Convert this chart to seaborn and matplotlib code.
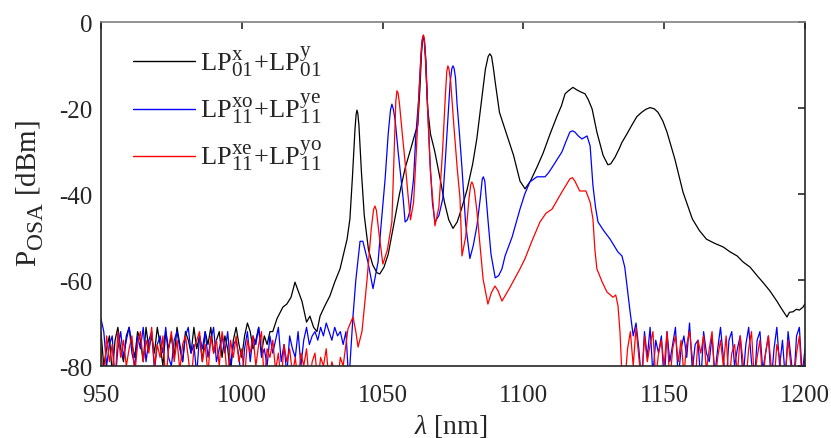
import numpy as np
import pandas as pd
import matplotlib
matplotlib.use("Agg")
import matplotlib.pyplot as plt
import matplotlib._mathtext as _mt
import seaborn as sns

# ---------------- data ----------------
# noise floors sampled every 1 nm
black_noise_start = 950
black_noise = [-72, -80, -76, -73, -82, -74, -71, -76, -79, -73, -71, -75, -78, -72, -74, -79,
               -71, -76, -73, -77, -71, -75, -80, -72, -76, -73, -78, -71, -75, -79, -72, -74,
               -77, -71, -76, -73, -79, -72, -75, -71, -77, -74, -72, -78, -73, -76, -82, -74,
               -71, -75, -78, -73, -70, -72, -76, -74, -71, -77, -73, -75, -72]

black_wl = [1011, 1012.5, 1014.6, 1016, 1017.5, 1018.9, 1020, 1021.4, 1023, 1024.2, 1025.5, 1026.7,
            1027.8, 1029.5, 1031.3, 1033, 1034.9, 1036.5, 1037.4, 1038.4, 1039.3, 1040.2, 1040.6,
            1040.9, 1041.2, 1041.6, 1042.5, 1043.5, 1045, 1046.5, 1048, 1049, 1050.5, 1052, 1054,
            1056, 1058, 1060, 1061.5, 1062.5, 1063.3, 1063.8, 1064.2, 1064.5, 1064.8, 1065.2, 1066,
            1067, 1068.5, 1070, 1072, 1073.5, 1075, 1076.5, 1078, 1080, 1082, 1083.5, 1085, 1086.5,
            1087.5, 1088.1, 1088.7, 1089.3, 1090, 1091.5, 1093.5, 1094.5, 1096.5, 1098.8, 1100.6,
            1102.5, 1105, 1107, 1109.5, 1112, 1113.5, 1114.8, 1116, 1117.6, 1119, 1120.5, 1121.9,
            1123, 1124.4, 1126.1, 1128.3, 1130, 1131, 1132.5, 1134, 1135, 1136.8, 1138.5, 1140.3,
            1142, 1143.5, 1145, 1146.5, 1147.8, 1149.5, 1151, 1153.8, 1156.7, 1160, 1162.5, 1165,
            1168, 1170.9, 1173.5, 1175.9, 1178, 1180.5, 1183, 1185, 1187.5, 1190, 1191.5, 1192.5,
            1193.6, 1194.5, 1195.7, 1197, 1198, 1199.3, 1200]
black_db = [-72, -69, -66.3, -65.6, -64, -60.5, -62.5, -65, -69.8, -68.4, -71, -72,
            -68.4, -66, -63.7, -60.5, -57.4, -53, -50.5, -45.8, -36, -25, -21.5,
            -20.5, -21.2, -24, -35, -45, -53, -56.5, -58.3, -58.6, -57, -54, -47,
            -40, -34, -29.5, -26, -24, -15, -7.5, -4, -3.2, -4.5, -8, -20,
            -26, -30, -35, -42, -46, -48, -46.5, -43.5, -39, -33, -27, -19, -11,
            -8, -7.4, -8, -10.5, -14, -21, -25, -27, -31, -37, -38.8,
            -37, -33.5, -30.5, -26, -21.8, -19.5, -16.7, -16, -15.2, -15.8, -16.3, -16.7,
            -18, -20.2, -25.6, -31, -33.2, -33, -31.5, -29.5, -28, -26, -24, -22,
            -21, -20.3, -19.9, -20.2, -21, -23, -25.6, -31.9, -39.6, -45.8, -48.5, -50.5,
            -51.5, -52.3, -53.5, -54.4, -55.8, -57, -59, -60.5, -62.5, -64.9, -66.5, -67.5,
            -68.6, -67.5, -67.4, -66.8, -67, -66.3, -65.5]

blue_noise_start = 950
blue_noise = [-69, -72, -80, -75, -73, -84, -76, -72, -78, -74, -71, -77, -80, -73, -76, -71,
              -79, -74, -72, -81, -75, -73, -77, -71, -78, -80, -74, -72, -76, -79, -73, -71,
              -77, -75, -82, -73, -76, -72, -78, -74, -71, -79, -76, -73, -77, -72, -80, -75,
              -74, -78, -84, -76, -72, -79, -73, -75, -71, -78, -76, -80, -73, -77, -74, -71,
              -79, -75, -82, -73, -76, -78, -72, -80, -74, -71, -75, -73, -72, -74, -71, -73,
              -70, -72, -74, -71, -73, -72, -75, -72, -84]

blue_wl = [1039.5, 1040.5, 1042, 1043, 1044.8, 1046.6, 1048.4, 1049.5, 1050.9, 1052, 1052.8,
           1053.3, 1053.8, 1054.5, 1055.5, 1057.3, 1058, 1058.8, 1059.7, 1061, 1061.8, 1062.8,
           1063.6, 1064.1, 1064.5, 1064.9, 1065.4, 1066, 1066.8, 1067.7, 1068.6, 1070, 1071.4,
           1072.3, 1073.2, 1074, 1074.6, 1075, 1075.4, 1075.9, 1076.4, 1077.3, 1078.2, 1079.5,
           1081, 1082.2, 1083.5, 1084.7, 1085.4, 1085.8, 1086.3, 1087.4, 1088.5, 1090, 1091.2,
           1092.4, 1093.5, 1096, 1098.8, 1100.5, 1102.3, 1104.8, 1107.7, 1109, 1110.5, 1113.7,
           1115, 1116.5, 1117.4, 1118.3, 1119.5, 1120.8, 1122.6, 1123.7, 1124.7, 1125.6, 1126.5,
           1128.5, 1130.8, 1133.6, 1135, 1136, 1136.8, 1137.9, 1139]
blue_db = [-68.4, -60, -51, -51, -55.8, -62, -55.8, -47, -36.5, -26, -20.5,
           -19.1, -20.2, -23, -30, -41, -46.5, -46, -44, -36.5, -26.5, -18,
           -8, -4.2, -3.5, -4.5, -9, -20, -31.9, -42, -46.5, -45, -41,
           -32, -22.6, -14, -10.8, -10.2, -10.8, -13, -18.6, -26, -34, -47,
           -55, -52, -47.4, -41, -36.5, -36, -37, -45.8, -54, -59.5, -59,
           -57.4, -54.4, -50, -43.5, -40, -37.2, -36, -36, -35, -33.5, -30.2,
           -28, -25.6, -25.3, -25.6, -26.5, -27.2, -26.5, -28.8, -38, -43, -46.5,
           -48.5, -50.5, -53.5, -54.4, -57, -61.4, -67.4, -73]

blue_tail_start = 1140
blue_tail = [-70, -76, -84, -72, -78, -71, -82, -74, -77, -73, -84, -72, -79, -75, -71, -83,
             -76, -73, -78, -70, -81, -75, -74, -84, -72, -77, -79, -73, -82, -76, -71, -78,
             -84, -74, -72, -80, -76, -73, -83, -75, -71, -79, -84, -74, -72, -81, -77, -73,
             -84, -76, -71, -80, -74, -83, -72, -78, -84, -73, -71, -82, -76]

red_noise_start = 950
red_noise = [-76, -84, -73, -79, -75, -84, -72, -78, -74, -80, -76, -73, -82, -75, -72, -79,
             -74, -77, -71, -80, -75, -78, -73, -84, -76, -72, -79, -74, -81, -75, -73, -78,
             -84, -76, -74, -72, -79, -75, -82, -73, -77, -74, -80, -72, -76, -84, -74, -78,
             -73, -79, -76, -83, -74, -77, -73, -80, -75, -72, -84, -76, -78, -74, -81, -77,
             -84, -75, -79, -76, -82, -78, -84, -77, -80, -76, -84, -79, -77, -84, -78, -80,
             -76, -84, -79, -82, -84, -78, -80]

red_wl = [1037.7, 1039.5, 1040.5, 1041.3, 1042.7, 1044.5, 1046, 1046.8, 1047.3, 1047.8, 1048.7,
          1050.1, 1051.7, 1053.3, 1054.2, 1054.7, 1055.1, 1055.5, 1056, 1057, 1058, 1059, 1059.9,
          1061, 1062, 1063, 1063.8, 1064.2, 1064.5, 1064.8, 1065.2, 1066, 1067, 1068.6, 1070,
          1071.3, 1072.3, 1072.8, 1073.2, 1073.6, 1074.2, 1075.3, 1076.5, 1077.5, 1078.2,
          1079.5, 1080.7, 1081.3, 1081.7, 1082.1, 1082.6, 1083.5, 1084.6, 1085.7, 1087.4,
          1088.6, 1089.9, 1091, 1092.4, 1095, 1098.8, 1100.6, 1103, 1105.9, 1108, 1110.2, 1113.7,
          1116.5, 1117.4, 1118.3, 1120, 1122.2, 1123.7, 1124.7, 1125.4, 1126.1, 1128, 1129.7,
          1131.8, 1132.8, 1133.6, 1134.3, 1135]
red_db = [-71.4, -68.6, -72, -75.6, -71.9, -59.8, -48, -43.6, -42.8, -43.8, -49,
          -56.3, -53, -46.5, -28, -18.5, -16, -16.5, -19, -26, -32.6, -40, -46,
          -42, -30, -16, -6, -3.6, -3, -3.8, -8, -20, -35, -47.4, -43,
          -30, -17, -11.5, -10.2, -11, -14, -24, -34, -41, -54.4,
          -50, -41, -37.8, -37.2, -37.8, -39, -44, -52, -59.8, -65.6,
          -63, -61.4, -62.5, -64.9, -62, -57.4, -55, -51, -46.5, -44.5, -43.5, -39.5,
          -36.5, -36.2, -37, -39.3, -39.3, -41.9, -45.8, -53, -57.4, -60.5, -62.8,
          -64, -63.5, -66, -72, -82]

red_tail_start = 1136
red_tail = [-84, -76, -72, -80, -71, -78, -84, -73, -79, -75, -72, -83, -77, -74, -80, -72,
            -84, -76, -73, -79, -74, -82, -75, -72, -78, -84, -74, -77, -73, -81, -76, -72,
            -84, -78, -74, -80, -73, -84, -77, -75, -82, -73, -79, -84, -76, -72, -83, -78,
            -74, -84, -77, -73, -80, -84, -75, -78, -84, -82, -74, -80, -84, -77, -73, -84, -78]

labels = [r"$\mathrm{LP}_{01}^{\mathrm{x}}\!+\!\mathrm{LP}_{01}^{\mathrm{y}}$",
          r"$\mathrm{LP}_{11}^{\mathrm{xo}}\!+\!\mathrm{LP}_{11}^{\mathrm{ye}}$",
          r"$\mathrm{LP}_{11}^{\mathrm{xe}}\!+\!\mathrm{LP}_{11}^{\mathrm{yo}}$"]
colors = ["#000000", "#0000ff", "#ff0000"]

x_ticks = [950, 1000, 1050, 1100, 1150, 1200]
y_ticks = [-80, -60, -40, -20, 0]

# ---------------- assemble ----------------
def grid(start, vals):
    return list(start + np.arange(len(vals), dtype=float))

series = [
    (grid(black_noise_start, black_noise) + black_wl, black_noise + black_db),
    (grid(blue_noise_start, blue_noise) + blue_wl + grid(blue_tail_start, blue_tail),
     blue_noise + blue_db + blue_tail),
    (grid(red_noise_start, red_noise) + red_wl + grid(red_tail_start, red_tail),
     red_noise + red_db + red_tail),
]
frames = []
for (wl, db), lab in zip(series, labels):
    frames.append(pd.DataFrame({"wl": wl, "db": db, "mode": lab}))
df = pd.concat(frames, ignore_index=True)

# ---------------- plot ----------------
sns.set_theme(style="white")
plt.rcParams["font.family"] = ["Liberation Serif", "DejaVu Serif"]
plt.rcParams["mathtext.fontset"] = "custom"
plt.rcParams["mathtext.rm"] = "Liberation Serif"
plt.rcParams["mathtext.it"] = "Liberation Serif:italic"
plt.rcParams["mathtext.bf"] = "Liberation Serif:bold"
plt.rcParams["axes.unicode_minus"] = False
_mt.SHRINK_FACTOR = 0.8  # larger sub/superscripts, as in the reference

fig = plt.figure(figsize=(8.31, 4.39), dpi=100)
ax = fig.add_axes([0.1215, 0.164, 0.8472, 0.7836])

sns.lineplot(data=df, x="wl", y="db", hue="mode", hue_order=labels, palette=colors,
             estimator=None, sort=False, units="mode", linewidth=0.9, ax=ax)

ax.set_xlim(950, 1200)
ax.set_ylim(-80, 0)
ax.set_xticks(x_ticks)
ax.set_yticks(y_ticks)
ax.tick_params(direction="in", length=5, width=1.2, top=True, right=True,
               labelsize=18, colors="#262626")
ax.tick_params(axis="x", pad=13)
ax.tick_params(axis="y", pad=6)
for s in ax.spines.values():
    s.set_color("#262626")
    s.set_linewidth(1.2)
ax.spines["top"].set_color("#808080")

ax.set_xlabel(r"$\mathit{\lambda}$ [nm]", fontsize=20, color="#262626")
ax.set_ylabel(r"$\mathrm{P}^{}_{\mathrm{OSA}}$ [dBm]", fontsize=21, color="#262626")
ax.xaxis.set_label_coords(0.497, -0.135)
ax.yaxis.set_label_coords(-0.08, 0.505)

leg = ax.legend(loc="upper left", bbox_to_anchor=(0.0455, 0.937), frameon=False,
                borderpad=0, borderaxespad=0,
                fontsize=19, handlelength=2.35, labelspacing=0.45, handletextpad=0.2)
for line in leg.get_lines():
    line.set_linewidth(1.0)

fig.savefig("out.png", dpi=100)
